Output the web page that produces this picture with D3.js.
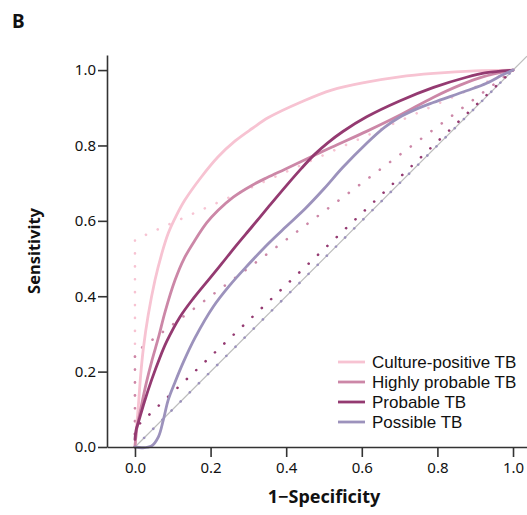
<!DOCTYPE html>
<html>
<head>
<meta charset="utf-8">
<script src="https://cdn.jsdelivr.net/npm/d3@7"></script>
<style>
  html, body { margin: 0; padding: 0; background: #fff; }
  svg { display: block; font-family: "Noto Sans", "Open Sans", sans-serif; }
</style>
</head>
<body>
<svg id="chart" width="527" height="515"></svg>
<script>
// series: [1-specificity, sensitivity]
const seriesNames = ['Culture-positive TB', 'Highly probable TB', 'Probable TB', 'Possible TB'];
const seriesColors = ['#f7c3d2', '#cc87a7', '#943a71', '#9c92bc'];

const culturePositive = [
  [0, 0], [0.004, 0.05], [0.009, 0.11], [0.015, 0.19], [0.022, 0.26], [0.035, 0.35],
  [0.053, 0.443], [0.07, 0.51], [0.088, 0.567], [0.11, 0.615], [0.132, 0.655],
  [0.176, 0.717], [0.22, 0.77], [0.265, 0.812], [0.31, 0.845], [0.353, 0.874],
  [0.441, 0.916], [0.52, 0.947], [0.613, 0.968], [0.70, 0.982], [0.79, 0.991],
  [0.9, 0.998], [1, 1]
];
const highlyProbable = [
  [0, 0], [0.005, 0.05], [0.015, 0.1], [0.03, 0.17], [0.045, 0.23], [0.062, 0.29],
  [0.08, 0.36], [0.106, 0.443], [0.13, 0.5], [0.159, 0.549], [0.19, 0.595],
  [0.22, 0.628], [0.26, 0.663], [0.309, 0.694], [0.35, 0.715], [0.397, 0.737],
  [0.458, 0.766], [0.52, 0.795], [0.614, 0.838], [0.70, 0.88], [0.79, 0.928],
  [0.86, 0.96], [0.92, 0.982], [1, 1]
];
const probable = [
  [0, 0.02], [0.003, 0.045], [0.009, 0.065], [0.025, 0.12], [0.044, 0.178],
  [0.065, 0.235], [0.084, 0.28], [0.119, 0.345], [0.155, 0.395], [0.194, 0.443],
  [0.23, 0.487], [0.265, 0.531], [0.31, 0.585], [0.353, 0.637], [0.40, 0.693],
  [0.441, 0.74], [0.476, 0.777], [0.51, 0.807], [0.55, 0.837], [0.613, 0.876],
  [0.70, 0.918], [0.79, 0.954], [0.877, 0.981], [0.93, 0.993], [1, 1]
];
const possible = [
  [0, 0], [0.02, -0.002], [0.044, 0.003], [0.062, 0.027], [0.075, 0.072],
  [0.088, 0.125], [0.106, 0.172], [0.128, 0.225], [0.159, 0.29], [0.207, 0.372],
  [0.25, 0.428], [0.30, 0.484], [0.353, 0.54], [0.40, 0.585], [0.45, 0.632],
  [0.50, 0.685], [0.55, 0.742], [0.613, 0.806], [0.66, 0.848], [0.70, 0.875],
  [0.75, 0.899], [0.789, 0.914], [0.877, 0.945], [0.93, 0.965], [0.974, 0.988],
  [1, 1]
];

// dotted reference lines (single-test ROC)
const culturePositiveDots = [[0, 0], [0, 0.55], [1, 1]];
const highlyProbableDots = [[0, 0], [0, 0.25], [1, 1]];
const probableDots = [[0, 0], [0, 0.05], [1, 1]];
const possibleDots = [[0, 0], [1, 1]];

const diagonal = [[0, 0], [1.037, 1.037]];

const tickValues = [0, 0.2, 0.4, 0.6, 0.8, 1.0];

const solid = [culturePositive, highlyProbable, probable, possible];
const dotted = [culturePositiveDots, highlyProbableDots, probableDots, possibleDots];

const svg = d3.select('#chart');

const x = d3.scaleLinear().domain([-0.074, 1.037]).range([107, 527]);
const y = d3.scaleLinear().domain([0, 1.04]).range([447, 55]);

const line = d3.line().x(d => x(d[0])).y(d => y(d[1]));
const smooth = d3.line().x(d => x(d[0])).y(d => y(d[1])).curve(d3.curveCatmullRom.alpha(0.5));

// --- panel letter ---
svg.append('text')
  .attr('x', 12).attr('y', 28)
  .attr('font-size', 19).attr('font-weight', 'bold')
  .attr('fill', '#111')
  .text('B');

// --- diagonal ---
svg.append('path').attr('d', line(diagonal))
  .attr('fill', 'none').attr('stroke', '#bdbdbd').attr('stroke-width', 1.2);

// --- dotted ---
dotted.forEach((pts, i) => {
  svg.append('path').attr('d', line(pts))
    .attr('fill', 'none')
    .attr('stroke', seriesColors[i])
    .attr('stroke-width', 2.6)
    .attr('stroke-linecap', 'round')
    .attr('stroke-dasharray', '0.1 12.8');
});

// --- solid curves ---
solid.forEach((pts, i) => {
  svg.append('path').attr('d', smooth(pts))
    .attr('fill', 'none')
    .attr('stroke', seriesColors[i])
    .attr('stroke-width', 2.8)
    .attr('stroke-linecap', 'round');
});

// --- axes ---
const gx = svg.append('g')
  .attr('transform', `translate(0,${y(0)})`)
  .call(d3.axisBottom(x).tickValues(tickValues).tickFormat(d3.format('.1f'))
    .tickSize(10).tickSizeOuter(0).tickPadding(5));
const gy = svg.append('g')
  .attr('transform', `translate(${x.range()[0]},0)`)
  .call(d3.axisLeft(y).tickValues(tickValues).tickFormat(d3.format('.1f'))
    .tickSize(9).tickSizeOuter(0).tickPadding(2));

[gx, gy].forEach(g => {
  g.select('.domain').attr('stroke', '#333').attr('stroke-width', 1.6);
  g.selectAll('.tick line').attr('stroke', '#333').attr('stroke-width', 1.6);
  g.selectAll('.tick text')
    .attr('font-size', 15).attr('fill', '#111')
    .attr('font-family', '"Noto Sans", sans-serif');
});

// axis titles
svg.append('text')
  .attr('x', 324).attr('y', 503)
  .attr('text-anchor', 'middle')
  .attr('font-size', 18).attr('font-weight', 'bold').attr('fill', '#111')
  .text('1\u2212Specificity');

svg.append('text')
  .attr('transform', 'translate(40,251) rotate(-90)')
  .attr('text-anchor', 'middle')
  .attr('font-size', 16.5).attr('font-weight', 'bold').attr('fill', '#111')
  .text('Sensitivity');

// --- legend ---
const legend = svg.append('g').attr('transform', 'translate(338,362)');
seriesNames.forEach((name, i) => {
  const row = legend.append('g').attr('transform', `translate(0,${i * 20})`);
  row.append('line')
    .attr('x1', 0).attr('x2', 27).attr('y1', 0).attr('y2', 0)
    .attr('stroke', seriesColors[i]).attr('stroke-width', 2.8);
  row.append('text')
    .attr('x', 34).attr('y', 0).attr('dy', '0.36em')
    .attr('font-family', '"Liberation Sans", Arial, sans-serif')
    .attr('font-size', 17).attr('fill', '#111')
    .text(name);
});
</script>
</body>
</html>
